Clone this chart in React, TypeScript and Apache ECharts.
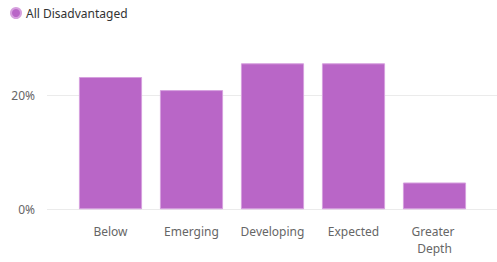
import React, { useEffect, useRef } from "react";
import * as echarts from "echarts";

const categories = ["Below", "Emerging", "Developing", "Expected", "Greater Depth"];
const seriesName = "All Disadvantaged";
const values = [23.2, 20.9, 25.6, 25.6, 4.7];
const yTicks = [0, 20];
const yMax = 36.7;

export default function App() {
  const ref = useRef<HTMLDivElement>(null);
  useEffect(() => {
    if (!ref.current) return;
    const chart = echarts.init(ref.current, undefined, { renderer: "svg" });
    const font = "'Segoe UI', 'Noto Sans', sans-serif";
    const top = 0;
    const bottom = 52.7;
    const isTick = (v: number) => yTicks.some((t) => Math.abs(t - v) < 1e-6);
    chart.setOption({
      animation: false,
      textStyle: { fontFamily: font },
      legend: {
        data: [seriesName],
        left: 10,
        top: 7,
        padding: 0,
        icon: "circle",
        itemWidth: 10,
        itemHeight: 10,
        textStyle: { color: "#333", fontSize: 12, fontFamily: font },
      },
      grid: [
        { left: 47, right: 0, top, bottom, containLabel: false },
        { left: 70, right: 22, top, bottom, containLabel: false },
      ],
      xAxis: [
        { gridIndex: 0, type: "value", show: false },
        {
          gridIndex: 1,
          type: "category",
          data: categories,
          axisLine: { show: false },
          axisTick: { show: false },
          axisLabel: {
            interval: 0,
            color: "#666",
            fontSize: 12,
            fontFamily: font,
            margin: 14,
            width: 76,
            overflow: "break",
            lineHeight: 17,
          },
        },
      ],
      yAxis: [
        {
          gridIndex: 0,
          type: "value",
          min: 0,
          max: yMax,
          interval: 20,
          axisLine: { show: false },
          axisTick: { show: false },
          splitLine: { showMaxLine: false, lineStyle: { color: "#ebebeb", width: 1 } },
          axisLabel: {
            showMaxLabel: false,
            color: "#666",
            fontSize: 12,
            fontFamily: font,
            margin: 12,
            formatter: (v: number) => (isTick(v) ? `${v}%` : ""),
          },
        },
        {
          gridIndex: 1,
          type: "value",
          min: 0,
          max: yMax,
          interval: 20,
          show: false,
          splitLine: { show: false },
        },
      ],
      series: [
        {
          name: seriesName,
          type: "bar",
          xAxisIndex: 1,
          yAxisIndex: 1,
          data: values,
          barCategoryGap: "22%",
          itemStyle: { color: "#B966C7", borderColor: "#D6A0DE", borderWidth: 1 },
        },
      ],
    });
    return () => chart.dispose();
  }, []);
  return (
    <div
      ref={ref}
      style={{ position: "fixed", left: 0, top: 0, width: 497, height: 262, background: "#fff" }}
    />
  );
}
